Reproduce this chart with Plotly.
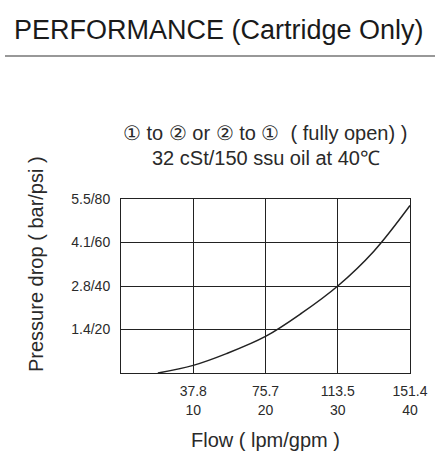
import plotly.graph_objects as go

# Data: flow (gpm) vs pressure drop (psi)
flow_gpm = [5.1, 10, 14.6, 20, 25, 30, 35, 40]
pressure_psi = [0, 3.5, 8.9, 16.8, 27.5, 40, 56, 77]

x_tickvals = [10, 20, 30, 40]
x_lpm_text = ["37.8", "75.7", "113.5", "151.4"]
x_gpm_text = ["10", "20", "30", "40"]
y_tickvals = [20, 40, 60, 80]
y_ticktext = ["1.4/20", "2.8/40", "4.1/60", "5.5/80"]

FONT = "Liberation Sans, Arial, sans-serif"
TXT = "#2a2a2a"
GRID = "#222222"

fig = go.Figure()
fig.add_trace(go.Scatter(x=flow_gpm, y=pressure_psi, mode="lines",
                         line=dict(color="#222222", width=1.5, shape="spline", smoothing=1.0),
                         hoverinfo="skip", showlegend=False))
# invisible trace to carry the second (gpm) label row
fig.add_trace(go.Scatter(x=flow_gpm, y=pressure_psi, xaxis="x2", mode="lines",
                         line=dict(width=0), opacity=0, hoverinfo="skip", showlegend=False))

PH = 174.0
PW = 289.0

fig.update_layout(
    width=444, height=470,
    margin=dict(l=121, r=34, t=199, b=97),
    paper_bgcolor="white", plot_bgcolor="white",
    font=dict(family=FONT, color=TXT),
    xaxis=dict(range=[0, 40], tickvals=x_tickvals, ticktext=x_lpm_text,
               showgrid=True, gridcolor=GRID, gridwidth=1,
               showline=True, linecolor=GRID, linewidth=1, mirror=True,
               zeroline=False, ticks="", ticklabelstandoff=5,
               tickfont=dict(size=14, color=TXT), fixedrange=True),
    xaxis2=dict(range=[0, 40], tickvals=x_tickvals, ticktext=x_gpm_text,
                overlaying="x", side="bottom", anchor="y",
                showgrid=False, showline=False, zeroline=False, ticks="",
                ticklabelstandoff=27, tickfont=dict(size=14, color=TXT), fixedrange=True),
    yaxis=dict(range=[0, 80], tickvals=y_tickvals, ticktext=y_ticktext,
               showgrid=True, gridcolor=GRID, gridwidth=1,
               showline=True, linecolor=GRID, linewidth=1, mirror=True,
               zeroline=False, ticks="", ticklabelstandoff=7,
               tickfont=dict(size=14, color=TXT), fixedrange=True),
    shapes=[dict(type="line", xref="paper", yref="paper",
                 x0=(5-121)/PW, x1=(435-121)/PW, y0=(373-56)/PH, y1=(373-56)/PH,
                 line=dict(color="#333333", width=1.2))],
    annotations=[
        dict(text="PERFORMANCE (Cartridge Only)", xref="paper", yref="paper",
             x=(12-121)/PW, y=(373-30)/PH, xanchor="left", yanchor="middle",
             showarrow=False, font=dict(size=27, color="#1a1a1a", family=FONT)),
        dict(text="① to ② or ② to ①  ( fully open) )", xref="paper", yref="paper",
             x=(265-121)/PW, y=(373-133)/PH, xanchor="center", yanchor="middle",
             showarrow=False, font=dict(size=20, color=TXT, family=FONT)),
        dict(text="32 cSt/150 ssu oil at 40℃", xref="paper", yref="paper",
             x=(266-121)/PW, y=(373-158)/PH, xanchor="center", yanchor="middle",
             showarrow=False, font=dict(size=20, color=TXT, family=FONT)),
        dict(text="Pressure drop ( bar/psi )", xref="paper", yref="paper",
             x=(36-121)/PW, y=(373-264)/PH, xanchor="center", yanchor="middle",
             textangle=-90, showarrow=False, font=dict(size=20, color=TXT, family=FONT)),
        dict(text="Flow ( lpm/gpm )", xref="paper", yref="paper",
             x=(265-121)/PW, y=(373-440)/PH, xanchor="center", yanchor="middle",
             showarrow=False, font=dict(size=20, color=TXT, family=FONT)),
    ],
)

fig.write_html("out.html")
